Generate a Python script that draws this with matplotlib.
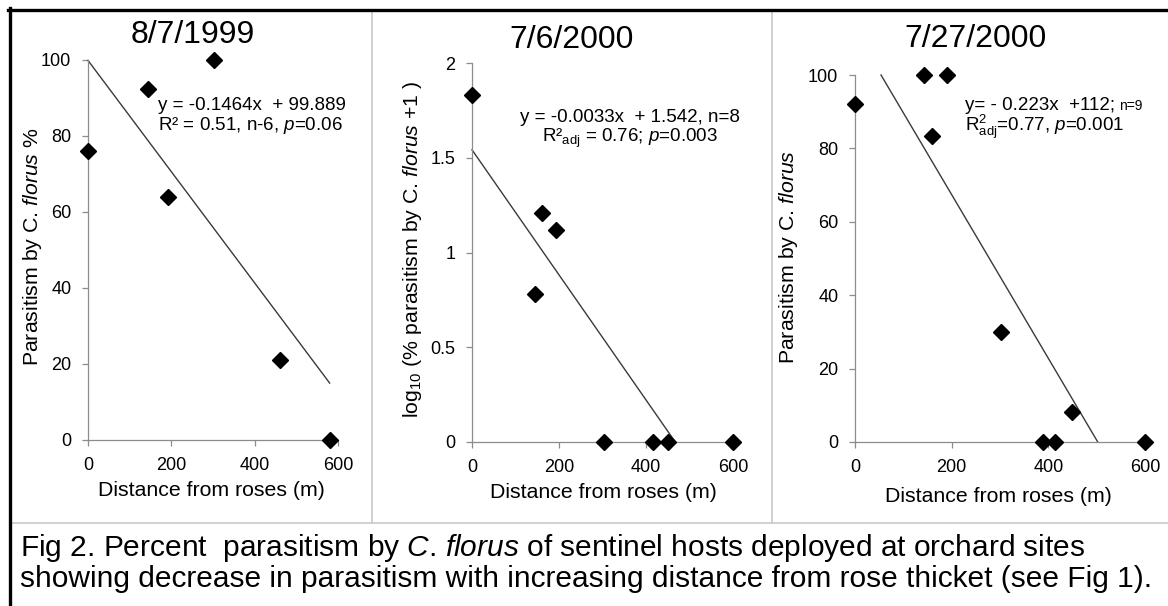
import matplotlib
matplotlib.use("Agg")
import matplotlib.pyplot as plt
from matplotlib.lines import Line2D
from matplotlib.ticker import FuncFormatter

# ---- data -------------------------------------------------------------
dist_1999 = [0, 145, 193, 302, 460, 580]
para_1999 = [76, 92.5, 64, 100, 21, 0]
fit_1999 = (-0.1464, 99.889)

dist_jul6 = [0, 145, 160, 192, 304, 416, 451, 600]
logpara_jul6 = [1.83, 0.78, 1.21, 1.12, 0, 0, 0, 0]
fit_jul6 = (-0.0033, 1.542)

dist_jul27 = [0, 143, 160, 190, 303, 388, 414, 450, 600]
para_jul27 = [92, 100, 83.5, 100, 30, 0, 0, 8.3, 0]
fit_jul27 = (-0.223, 112)

x_ticks = [0, 200, 400, 600]
pct_ticks = [0, 20, 40, 60, 80, 100]
log_ticks = [0, 0.5, 1, 1.5, 2]

titles = ["8/7/1999", "7/6/2000", "7/27/2000"]
xlabel = "Distance from roses (m)"
ylabels = [
    r"Parasitism by C. $\it{florus}$ %",
    r"log$_{10}$ (% parasitism by C. $\it{florus}$ +1 )",
    r"Parasitism by C. $\it{florus}$",
]

# ---- style ------------------------------------------------------------
plt.rcParams['font.family'] = ['Liberation Sans', 'DejaVu Sans']
plt.rcParams['mathtext.fontset'] = 'custom'
plt.rcParams['mathtext.rm'] = 'Liberation Sans'
plt.rcParams['mathtext.it'] = 'Liberation Sans:italic'
plt.rcParams['mathtext.sf'] = 'Liberation Sans'

W, H = 1168, 606
fig = plt.figure(figsize=(W / 100, H / 100), dpi=100)
fig.patch.set_facecolor('white')

AXIS_GREY = '#8c8c8c'
LINE_GREY = '#3a3a3a'
TICK_FS = 13
LABEL_FS = 15.3
TITLE_FS = 23
NOTE_FS = 13.5
CAPTION_FS = 21.5


def fx(x):
    return x / W


def fy(y):
    return 1 - y / H


def make_axes(left, top, right, bottom):
    ax = fig.add_axes([fx(left), fy(bottom), (right - left) / W, (bottom - top) / H])
    for side in ('top', 'right'):
        ax.spines[side].set_visible(False)
    for side in ('left', 'bottom'):
        ax.spines[side].set_color(AXIS_GREY)
        ax.spines[side].set_linewidth(0.9)
    ax.tick_params(direction='out', length=4, width=0.9, color=AXIS_GREY,
                   labelsize=TICK_FS, pad=8)
    ax.set_facecolor('none')
    return ax


def fit_segment(fit, xs, ymax):
    m, b = fit
    x0 = max(min(xs), (ymax - b) / m)
    x1 = min(max(xs), (0 - b) / m)
    return [x0, x1], [m * x0 + b, m * x1 + b]


def draw_panel(ax, xs, ys, fit, ylim, yticks):
    ax.set_xlim(0, 600)
    ax.set_ylim(*ylim)
    ax.set_xticks(x_ticks)
    ax.set_yticks(yticks)
    ax.yaxis.set_major_formatter(FuncFormatter(lambda v, p: f"{v:g}"))
    lx, ly = fit_segment(fit, xs, ylim[1])
    ax.plot(lx, ly, color=LINE_GREY, lw=1.0, clip_on=False, zorder=2)
    ax.plot(xs, ys, linestyle='none', marker='D', ms=8, color='black',
            clip_on=False, zorder=3)


ax1 = make_axes(88, 60, 338, 440)
draw_panel(ax1, dist_1999, para_1999, fit_1999, (0, 100), pct_ticks)

ax2 = make_axes(472, 63, 733, 442)
draw_panel(ax2, dist_jul6, logpara_jul6, fit_jul6, (0, 2), log_ticks)

ax3 = make_axes(855, 75, 1145, 442)
draw_panel(ax3, dist_jul27, para_jul27, fit_jul27, (0, 100), pct_ticks)

# titles
for (cx, cy), t in zip([(193, 35), (572, 40), (975, 39)], titles):
    fig.text(fx(cx), fy(cy), t, fontsize=TITLE_FS, ha='center', va='center')

# axis labels
for cx, cy in [(211, 490), (603, 493), (998, 497)]:
    fig.text(fx(cx), fy(cy), xlabel, fontsize=LABEL_FS, ha='center', va='center')
for (cx, cy), lab in zip([(33, 247), (412, 249), (789, 257)], ylabels):
    fig.text(fx(cx), fy(cy), lab, fontsize=LABEL_FS, ha='center', va='center',
             rotation=90)

# regression annotations
fig.text(fx(158), fy(110), "y = -0.1464x  + 99.889", fontsize=NOTE_FS,
         ha='left', va='baseline')
fig.text(fx(158), fy(130), r"R² = 0.51, n-6, $\it{p}$=0.06", fontsize=NOTE_FS,
         ha='left', va='baseline')

fig.text(fx(630), fy(122), "y = -0.0033x  + 1.542, n=8", fontsize=NOTE_FS,
         ha='center', va='baseline')
fig.text(fx(630), fy(142), r"R²$_{\mathrm{adj}}$ = 0.76; $\it{p}$=$\it{0.003}$",
         fontsize=NOTE_FS, ha='center', va='baseline')

base_y = fy(110)
eq3 = fig.text(fx(965), base_y, "y= - 0.223x  +112;", fontsize=NOTE_FS,
               ha='left', va='baseline')
ax3.annotate("n=9", xy=(1, base_y), xycoords=(eq3, 'figure fraction'),
             xytext=(3, 0), textcoords='offset points',
             fontsize=10, ha='left', va='baseline', annotation_clip=False)
fig.text(fx(965), fy(131), r"R$^{2}_{\mathrm{adj}}$=0.77, $\it{p}$=0.001",
         fontsize=NOTE_FS, ha='left', va='baseline')

# panel separators and frame
grey = '#c9c9c9'
fig.add_artist(Line2D([fx(372), fx(372)], [fy(11), fy(523)], color=grey, lw=1.2))
fig.add_artist(Line2D([fx(772), fx(772)], [fy(11), fy(523)], color=grey, lw=1.2))
fig.add_artist(Line2D([fx(11), 1], [fy(523), fy(523)], color=grey, lw=1.2))
fig.add_artist(Line2D([fx(8), 1], [fy(9.5), fy(9.5)], color='black', lw=2.4))
fig.add_artist(Line2D([fx(9.5), fx(9.5)], [fy(8), 0], color='black', lw=2.4))

# caption
fig.text(fx(20), fy(556),
         r"Fig 2. Percent  parasitism by $\it{C}$. $\it{florus}$ of sentinel hosts deployed at orchard sites",
         fontsize=CAPTION_FS, ha='left', va='baseline')
fig.text(fx(20), fy(587),
         "showing decrease in parasitism with increasing distance from rose thicket (see Fig 1).",
         fontsize=CAPTION_FS, ha='left', va='baseline')

fig.savefig("out.png", dpi=100, facecolor='white')
